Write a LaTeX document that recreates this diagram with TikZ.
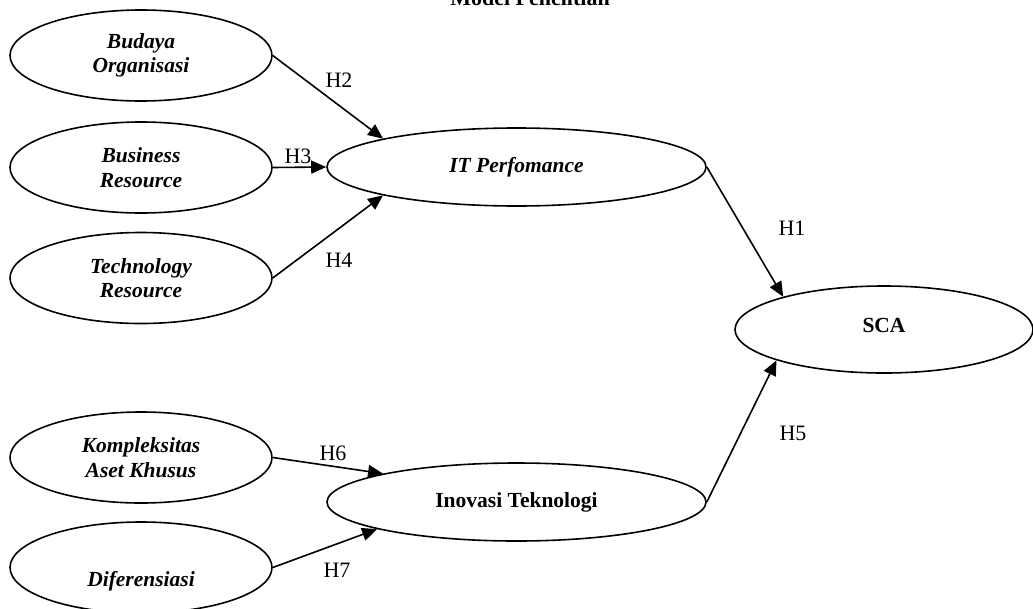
\documentclass[tikz,border=0pt]{standalone}
\usepackage{fontspec}
\setmainfont{Liberation Serif}
\usetikzlibrary{shapes.geometric,arrows.meta}
\begin{document}
\begin{tikzpicture}[x=1pt,y=-1pt,
  font=\fontsize{22}{25}\selectfont,
  var/.style={ellipse,draw,line width=1.6pt,inner sep=0pt,align=center},
  small/.style={var,minimum width=262pt,minimum height=91pt,font=\fontsize{21.5}{24.5}\selectfont\bfseries\itshape},
  big/.style={var,minimum width=379pt,minimum height=78pt},
  link/.style={line width=1.6pt,-{Triangle[length=15pt,width=13pt]}},
  hyp/.style={inner sep=0pt}]
\useasboundingbox (0,0) rectangle (1033,608);

% heading, partly above the page
\node[anchor=base,font=\fontsize{22}{25}\selectfont\bfseries] (title) at (530,5.5) {Model Penelitian};

% exogenous constructs
\node[small] (bud) at (141,55.5)  {Budaya\\Organisasi};
\node[small] (bus) at (141,167.5) {Business\\Resource};
\node[small] (tec) at (141,278)   {Technology\\Resource};
\node[small] (kom) at (141,457.5) {Kompleksitas\\Aset Khusus};
\node[small] (dif) at (141,567.5) {};
\node[font=\fontsize{21.5}{24.5}\selectfont\bfseries\itshape] (diftxt) at (141,581) {Diferensiasi};

% mediators and outcome
\node[big,font=\fontsize{21.5}{24.5}\selectfont\bfseries\itshape] (itp) at (516.5,167) {\raisebox{2pt}{IT Perfomance}};
\node[big,font=\fontsize{21.5}{24.5}\selectfont\bfseries] (ino) at (516.5,502) {Inovasi Teknologi};
\node[var,minimum width=298pt,minimum height=87pt,font=\fontsize{21.5}{24.5}\selectfont\bfseries] (sca) at (884,329.5) {\raisebox{9pt}{SCA}};

% hypothesised paths
\draw[link] (bud.east) -- (itp.168);
\draw[link] (bus.east) -- (itp.west);
\draw[link] (tec.east) -- (itp.192);
\draw[link] (itp.east) -- (sca.162.6);
\draw[link] (ino.east) -- (sca.196.8);
\draw[link] (kom.east) -- (ino.168);
\draw[link] (dif.east) -- (ino.191.3);

% path labels
\node[hyp] (h2) at (339,80)  {H2};
\node[hyp] (h3) at (298,156) {H3};
\node[hyp] (h4) at (339,260) {H4};
\node[hyp] (h1) at (792,228) {H1};
\node[hyp] (h5) at (793,433) {H5};
\node[hyp] (h6) at (333,453) {H6};
\node[hyp] (h7) at (337,570) {H7};
\end{tikzpicture}
\end{document}
